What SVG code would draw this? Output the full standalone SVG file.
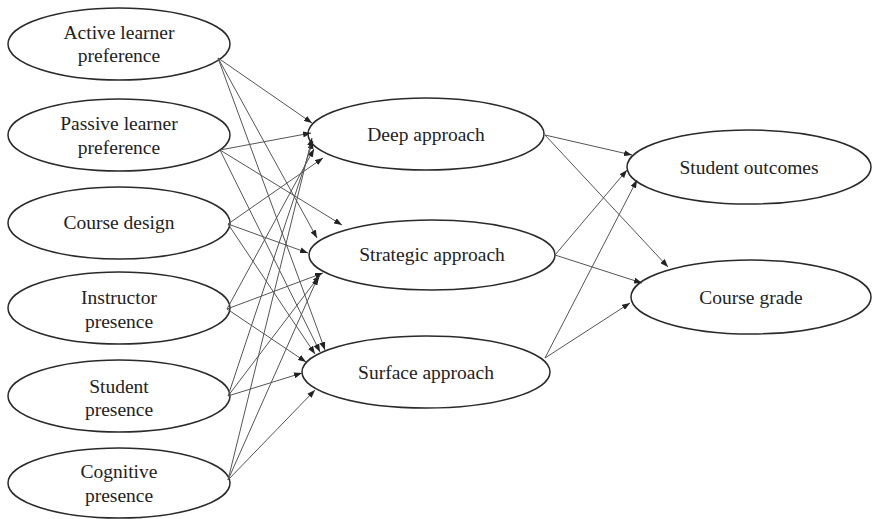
<svg xmlns="http://www.w3.org/2000/svg" width="873" height="519" viewBox="0 0 873 519">
<style>
.n{fill:#fff;stroke:#2a2a2a;stroke-width:1.5}
.t{font-family:"Liberation Serif","Times New Roman",serif;font-size:19.5px;fill:#222;text-anchor:middle}
.c line{stroke:#555;stroke-width:1;marker-end:url(#ah)}
</style>
<defs>
<marker id="ah" markerUnits="userSpaceOnUse" markerWidth="8" markerHeight="6" refX="8" refY="3" orient="auto">
<path d="M0,0 L8,3 L0,6 z" fill="#222"/>
</marker>
</defs>
<rect width="873" height="519" fill="#fff"/>
<g id="n-active"><ellipse class="n" cx="119" cy="44" rx="111" ry="36"/><text class="t" x="119" y="39">Active learner</text><text class="t" x="119" y="62">preference</text></g>
<g id="n-passive"><ellipse class="n" cx="119" cy="135" rx="111" ry="36"/><text class="t" x="119" y="130">Passive learner</text><text class="t" x="119" y="154">preference</text></g>
<g id="n-course"><ellipse class="n" cx="119" cy="223" rx="111" ry="36"/><text class="t" x="119" y="229">Course design</text></g>
<g id="n-instructor"><ellipse class="n" cx="119" cy="308" rx="111" ry="36"/><text class="t" x="119" y="304">Instructor</text><text class="t" x="119" y="328">presence</text></g>
<g id="n-student"><ellipse class="n" cx="119" cy="396" rx="111" ry="36"/><text class="t" x="119" y="393">Student</text><text class="t" x="119" y="416">presence</text></g>
<g id="n-cognitive"><ellipse class="n" cx="119" cy="483" rx="111" ry="35"/><text class="t" x="119" y="478">Cognitive</text><text class="t" x="119" y="502">presence</text></g>
<g id="n-deep"><ellipse class="n" cx="426" cy="134" rx="118" ry="36"/><text class="t" x="426" y="141">Deep approach</text></g>
<g id="n-strategic"><ellipse class="n" cx="432" cy="255" rx="123" ry="35"/><text class="t" x="432" y="261">Strategic approach</text></g>
<g id="n-surface"><ellipse class="n" cx="426" cy="372" rx="124" ry="36"/><text class="t" x="426" y="379">Surface approach</text></g>
<g id="n-outcomes"><ellipse class="n" cx="749" cy="167" rx="122" ry="37"/><text class="t" x="749" y="174">Student outcomes</text></g>
<g id="n-grade"><ellipse class="n" cx="751" cy="297" rx="120" ry="37"/><text class="t" x="751" y="304">Course grade</text></g>
<g id="connectors" class="c">
<line x1="218" y1="58" x2="312" y2="123"/>
<line x1="218" y1="58" x2="317" y2="238"/>
<line x1="218" y1="58" x2="325" y2="350"/>
<line x1="220" y1="150" x2="311" y2="133"/>
<line x1="220" y1="150" x2="342" y2="225"/>
<line x1="220" y1="150" x2="320" y2="352"/>
<line x1="228" y1="224" x2="323" y2="158"/>
<line x1="228" y1="224" x2="308" y2="253"/>
<line x1="228" y1="224" x2="315" y2="354"/>
<line x1="227" y1="309" x2="314" y2="149"/>
<line x1="227" y1="309" x2="323" y2="273"/>
<line x1="227" y1="309" x2="306" y2="362"/>
<line x1="228" y1="396" x2="313" y2="141"/>
<line x1="228" y1="396" x2="320" y2="275"/>
<line x1="228" y1="396" x2="302" y2="373"/>
<line x1="228" y1="480" x2="312" y2="138"/>
<line x1="228" y1="480" x2="318" y2="277"/>
<line x1="228" y1="480" x2="315" y2="390"/>
<line x1="545" y1="135" x2="632" y2="155"/>
<line x1="545" y1="135" x2="668" y2="267"/>
<line x1="555" y1="255" x2="627" y2="170"/>
<line x1="555" y1="255" x2="642" y2="283"/>
<line x1="545" y1="358" x2="637" y2="180"/>
<line x1="545" y1="358" x2="630" y2="303"/>
</g>
</svg>
